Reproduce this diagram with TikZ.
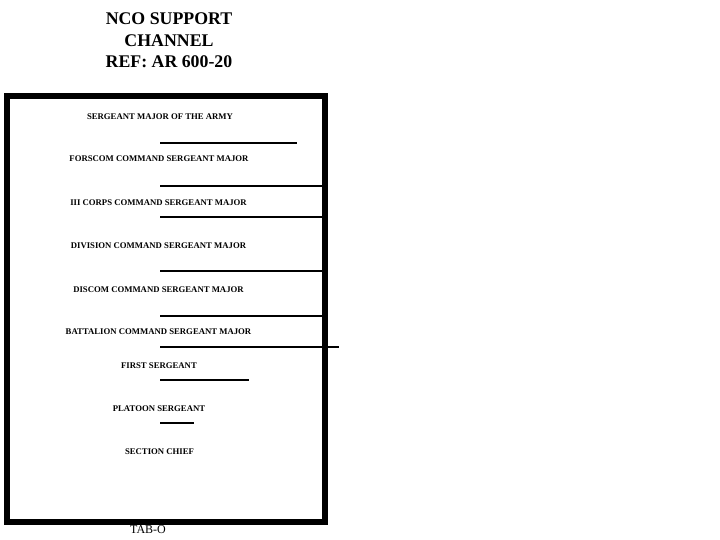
\documentclass[tikz,border=0pt]{standalone}
\usepackage{fontspec}
\setmainfont{Liberation Serif}

\begin{document}
\begin{tikzpicture}[x=1pt,y=1pt,yscale=-1]
\tikzset{rank/.style={font=\fontsize{8.7}{10}\selectfont\bfseries,inner sep=0.75pt},
  rankline/.style={line width=2pt}}
\useasboundingbox (0,0) rectangle (720,540);

%Shape: Rectangle [id:frame] 
\draw  [line width=6pt]  (6.5,96.5) -- (324.5,96.5) -- (324.5,521.5) -- (6.5,521.5) -- cycle ;

%Shape: Line [id:sep1] 
\draw [rankline]   (160,143) -- (297,143) ;
%Shape: Line [id:sep2] 
\draw [rankline]   (160,186) -- (322,186) ;
%Shape: Line [id:sep3] 
\draw [rankline]   (160,217) -- (322,217) ;
%Shape: Line [id:sep4] 
\draw [rankline]   (160,271) -- (322,271) ;
%Shape: Line [id:sep5] 
\draw [rankline]   (160,316) -- (322,316) ;
%Shape: Line [id:sep6] 
\draw [rankline]   (160,347) -- (339,347) ;
%Shape: Line [id:sep7] 
\draw [rankline]   (160,380) -- (249,380) ;
%Shape: Line [id:sep8] 
\draw [rankline]   (160,423) -- (194,423) ;

% Text Node
\draw (169,40.5) node [align=center,inner sep=0.75pt,font=\fontsize{17.8}{21.5}\selectfont\bfseries] (title)   {NCO SUPPORT\\CHANNEL\\REF: AR 600-20};
% Text Node
\draw (160,117) node [rank] (sma)   {SERGEANT MAJOR OF THE ARMY};
% Text Node
\draw (159,159) node [rank] (forscom)   {FORSCOM COMMAND SERGEANT MAJOR};
% Text Node
\draw (158.5,203) node [rank] (corps)   {III CORPS COMMAND SERGEANT MAJOR};
% Text Node
\draw (158.5,246) node [rank] (division)   {DIVISION COMMAND SERGEANT MAJOR};
% Text Node
\draw (158.5,290) node [rank] (discom)   {DISCOM COMMAND SERGEANT MAJOR};
% Text Node
\draw (158.5,332) node [rank] (battalion)   {BATTALION COMMAND SERGEANT MAJOR};
% Text Node
\draw (159,366) node [rank] (first)   {FIRST SERGEANT};
% Text Node
\draw (159,409) node [rank] (platoon)   {PLATOON SERGEANT};
% Text Node
\draw (159.5,452) node [rank] (section)   {SECTION CHIEF};
% Text Node
\draw (148,530) node [inner sep=0.75pt,font=\fontsize{12}{14}\selectfont] (tab)   {TAB-O};
\end{tikzpicture}
\end{document}
